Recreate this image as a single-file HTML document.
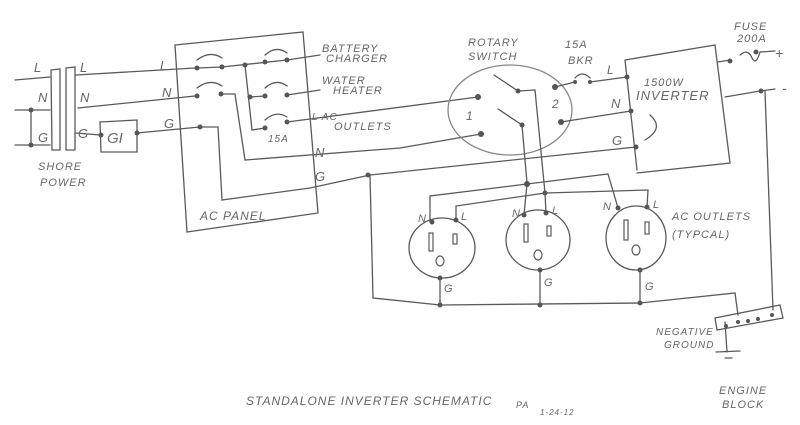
<!DOCTYPE html>
<html><head><meta charset="utf-8"><style>
html,body{margin:0;padding:0;background:#fff;}
svg{display:block;}
text{font-family:"Liberation Sans",sans-serif;fill:#666;font-style:italic;}
</style></head><body>
<svg width="800" height="425" viewBox="0 0 800 425" xmlns="http://www.w3.org/2000/svg">
<rect width="800" height="425" fill="#fff"/>
<g stroke="#5a5a5a" stroke-width="1.3" fill="none" stroke-linecap="round">
<path d="M15 80 L50 77 M15 110 L50 110 M15 145 L50 145 M31 110 L31 145"/>
<path d="M51 70 L60 69 L60 150 L52 150 Z M66 68 L75 67 L75 150 L66 150 Z"/>
<path d="M76 75 L195 68 M78 108 L195 96 M76 133 L100 135"/>
<path d="M100 122 L137 120 L137 152 L101 152 Z"/>
<path d="M137 133 L200 127"/>
<path d="M175 45 L303 32 L318 213 L187 232 Z"/>
<path d="M197 68 L222 67 L287 60"/>
<path d="M245 65 L252 130 L265 128 M250 97 L265 96"/>
<path d="M197 60 Q210 50 222 58 M265 55 Q276 45 287 53 M197 88 Q210 78 222 86 M265 88 Q276 78 287 86 M265 120 Q276 110 287 117"/>
<path d="M221 94 L235 94 L245 160 L400 148 L481 134"/>
<path d="M200 127 L218 127 L222 200 L310 188 L370 175 L636 147"/>
<path d="M287 60 L320 55 M287 95 L320 90 M287 122 L478 97"/>
<ellipse cx="510" cy="110" rx="62" ry="45" stroke="#888"/>
<path d="M494 75 L518 91 L535 90 L545 193 M498 109 L522 125 L527 183"/>
<path d="M555 87 L575 82 M590 82 L627 77 M575 78 Q582 70 590 78 M561 122 L631 111"/>
<path d="M625 60 L715 45 L730 163 L637 173 M625 60 L637 170"/>
<path d="M650 115 Q665 128 645 140"/>
<path d="M718 62 L730 60 M740 55 Q748 48 752 58 Q756 66 760 52 L775 51 M725 97 L760 91 L775 89"/>
<path d="M430 222 L430 196 L527 184 L608 174 L618 208"/>
<path d="M456 220 L456 206 L545 193 L648 190 L647 207"/>
<path d="M524 215 L527 184 M546 213 L545 193"/>
<ellipse cx="442" cy="248" rx="33" ry="30"/>
<ellipse cx="538" cy="240" rx="32" ry="30"/>
<ellipse cx="636" cy="238" rx="30" ry="32"/>
<path d="M440 278 L440 305 M540 270 L540 305 M640 270 L640 303"/>
<path d="M370 175 L373 298 L440 305 L640 303 L735 293 L738 315"/>
<path d="M765 91 L773 310"/>
<path d="M715 318 L780 305 L783 318 L717 330 Z"/>
<path d="M725 322 L727 352 M716 352 L740 351 M725 358 L732 358"/>
</g>
<g fill="#555">
<circle cx="31" cy="110" r="2.5"/><circle cx="31" cy="145" r="2.5"/>
<circle cx="101" cy="135" r="2.5"/><circle cx="137" cy="133" r="2.5"/>
<circle cx="197" cy="68" r="2.5"/><circle cx="222" cy="67" r="2.5"/><circle cx="245" cy="65" r="2.5"/><circle cx="265" cy="62" r="2.5"/><circle cx="287" cy="60" r="2.5"/>
<circle cx="197" cy="96" r="2.5"/><circle cx="221" cy="94" r="2.5"/><circle cx="250" cy="97" r="2.5"/><circle cx="265" cy="96" r="2.5"/><circle cx="287" cy="95" r="2.5"/>
<circle cx="200" cy="127" r="2.5"/><circle cx="265" cy="128" r="2.5"/><circle cx="287" cy="122" r="2.5"/>
<circle cx="478" cy="97" r="3"/><circle cx="481" cy="134" r="3"/><circle cx="518" cy="91" r="2.5"/><circle cx="522" cy="125" r="2.5"/>
<circle cx="555" cy="87" r="3"/><circle cx="561" cy="122" r="3"/><circle cx="575" cy="82" r="2"/><circle cx="590" cy="82" r="2"/>
<circle cx="627" cy="77" r="2.5"/><circle cx="631" cy="111" r="2.5"/><circle cx="636" cy="147" r="2.5"/>
<circle cx="730" cy="61" r="2.5"/><circle cx="756" cy="52" r="2.5"/><circle cx="761" cy="91" r="2.5"/>
<circle cx="368" cy="175" r="2.5"/><circle cx="527" cy="184" r="3"/><circle cx="545" cy="193" r="2.5"/>
<circle cx="432" cy="222" r="2.5"/><circle cx="456" cy="220" r="2.5"/><circle cx="440" cy="278" r="2.5"/>
<circle cx="524" cy="215" r="2.5"/><circle cx="546" cy="213" r="2.5"/><circle cx="540" cy="270" r="2.5"/>
<circle cx="618" cy="208" r="2.5"/><circle cx="647" cy="207" r="2.5"/><circle cx="640" cy="270" r="2.5"/>
<circle cx="440" cy="305" r="2.5"/><circle cx="540" cy="305" r="2.5"/><circle cx="640" cy="303" r="2.5"/>
<circle cx="726" cy="326" r="2"/><circle cx="738" cy="322" r="2"/><circle cx="748" cy="321" r="2"/><circle cx="758" cy="319" r="2"/><circle cx="772" cy="315" r="2"/>
</g>
<g stroke="#5a5a5a" stroke-width="1.2" fill="none">
<rect x="429" y="233" width="4" height="18"/><rect x="453" y="234" width="4" height="10"/><ellipse cx="440" cy="261" rx="4" ry="5"/>
<rect x="524" y="224" width="4" height="18"/><rect x="547" y="226" width="4" height="10"/><ellipse cx="538" cy="255" rx="4" ry="5"/>
<rect x="624" y="220" width="4" height="20"/><rect x="645" y="222" width="4" height="12"/><ellipse cx="636" cy="250" rx="4" ry="5"/>
</g>
<g font-size="13">
<text x="34" y="72">L</text><text x="38" y="102">N</text><text x="38" y="142">G</text>
<text x="80" y="72">L</text><text x="80" y="102">N</text><text x="78" y="138">G</text>
<text x="107" y="143" font-size="15" fill="#444">GI</text>
<text x="160" y="70">L</text><text x="162" y="97">N</text><text x="164" y="128">G</text>
<text x="315" y="157">N</text><text x="315" y="181">G</text>
<text x="607" y="74" font-size="12">L</text><text x="611" y="108">N</text><text x="612" y="145">G</text>
<text x="466" y="120" font-size="12">1</text><text x="552" y="108" font-size="12">2</text>
<text x="775" y="58" font-size="14">+</text><text x="782" y="93" font-size="14">-</text>
<text x="418" y="222" font-size="11">N</text><text x="461" y="220" font-size="11">L</text><text x="444" y="292" font-size="11">G</text>
<text x="512" y="217" font-size="11">N</text><text x="552" y="214" font-size="11">L</text><text x="544" y="286" font-size="11">G</text>
<text x="603" y="210" font-size="11">N</text><text x="653" y="208" font-size="11">L</text><text x="645" y="290" font-size="11">G</text>
</g>
<g font-size="11" letter-spacing="1">
<text x="38" y="170">SHORE</text><text x="40" y="186">POWER</text>
<text x="200" y="220" font-size="12">AC PANEL</text>
<text x="322" y="52">BATTERY</text><text x="326" y="62">CHARGER</text>
<text x="322" y="84">WATER</text><text x="333" y="94">HEATER</text>
<text x="312" y="120" font-size="10">L AC</text><text x="334" y="130">OUTLETS</text>
<text x="268" y="142" font-size="10" fill="#999">15A</text>
<text x="468" y="46">ROTARY</text><text x="468" y="60">SWITCH</text>
<text x="565" y="48">15A</text><text x="568" y="64">BKR</text>
<text x="644" y="86">1500W</text><text x="636" y="100" font-size="13">INVERTER</text>
<text x="734" y="30">FUSE</text><text x="737" y="42">200A</text>
<text x="672" y="220" fill="#999">AC OUTLETS</text><text x="672" y="238" fill="#999">(TYPCAL)</text>
<text x="656" y="335" font-size="10">NEGATIVE</text><text x="664" y="348" font-size="10">GROUND</text>
<text x="719" y="394">ENGINE</text><text x="722" y="408">BLOCK</text>
<text x="246" y="405" font-size="12" fill="#999">STANDALONE INVERTER SCHEMATIC</text>
<text x="516" y="408" font-size="9" fill="#999">PA</text><text x="540" y="415" font-size="8" fill="#999">1-24-12</text>
</g>
</svg>
</body></html>
